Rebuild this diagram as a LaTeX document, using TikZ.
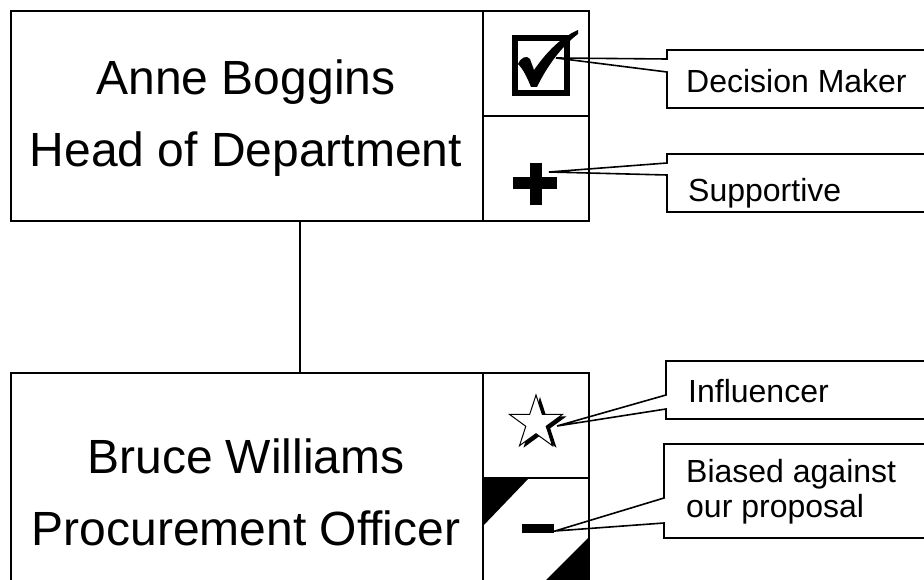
\documentclass[tikz,border=0pt]{standalone}
\usepackage{fontspec}
\setmainfont{Liberation Sans}

\tikzset{
	frame/.style={draw, line width=1.6pt, inner sep=0pt, anchor=north west},
	nametext/.style={inner sep=0pt, anchor=base, font=\fontsize{48}{56}\selectfont},
	tagtext/.style={inner sep=0pt, anchor=base west, font=\fontsize{32}{36}\selectfont},
	callout/.style={draw, line width=1.6pt, line join=miter},
}

\begin{document}
\begin{tikzpicture}[x=1pt, y=-1pt]
	\clip (0,0) rectangle (924,580);
	\node (anne) [frame, minimum width=578pt, minimum height=210pt] at (10,10) {};
	\node (bruce) [frame, minimum width=578pt, minimum height=216pt] at (10,372) {};
	\node (decider) [frame, minimum width=106pt, minimum height=105pt] at (482,10) {};
	\node (support) [frame, minimum width=106pt, minimum height=105pt] at (482,115) {};
	\node (influence) [frame, minimum width=106pt, minimum height=105pt] at (482,372) {};
	\node (bias) [frame, minimum width=106pt, minimum height=111pt] at (482,477) {};
	\draw [line width=1.6pt] (anne) -- (bruce);

	\node (anneName) [nametext] at (246,95) {Anne Boggins};
	\node (anneRole) [nametext] at (246,167) {Head of Department};
	\node (bruceName) [nametext] at (246,473) {Bruce Williams};
	\node (bruceRole) [nametext] at (246,545) {Procurement Officer};

	\draw [line width=6.5pt] (515,38) rectangle (567,93);
	\fill (518,64) .. controls (521,57) and (527,55) .. (530,59) -- (534,70)
		.. controls (548,50) and (562,37) .. (578,30) -- (578,34)
		.. controls (562,46) and (547,66) .. (537,87) -- (531,87)
		.. controls (527,77) and (523,69) .. (518,64) -- cycle;
	\fill (513,177.5) rectangle (557,189);
	\fill (530,163) rectangle (541.5,205);
	\fill [shift={(4,2)}] (536,395) -- (542.3,414.3) -- (562.6,414.3) -- (546.2,426.3) -- (552.5,445.7)
		-- (536,433.7) -- (519.5,445.7) -- (525.8,426.3) -- (509.4,414.3) -- (529.7,414.3) -- cycle;
	\draw [fill=white, line width=1pt, line join=miter] (536,395) -- (542.3,414.3) -- (562.6,414.3) -- (546.2,426.3) -- (552.5,445.7)
		-- (536,433.7) -- (519.5,445.7) -- (525.8,426.3) -- (509.4,414.3) -- (529.7,414.3) -- cycle;
	\fill (482,477) -- (530,477) -- (482,527) -- cycle;
	\fill (588,538) -- (588,588) -- (538,588) -- cycle;
	\fill (522,524) rectangle (554,533);

	\coordinate (deciderTip) at (556,58);
	\coordinate (supportTip) at (549,172);
	\coordinate (influenceTip) at (557,426);
	\coordinate (biasTip) at (555,531);

	\draw [callout] (940,50) -- (667,50) -- (667,59) -- (deciderTip) -- (667,72) -- (667,108) -- (940,108);
	\draw [callout] (940,154) -- (667,154) -- (667,163) -- (supportTip) -- (667,175) -- (667,212) -- (940,212);
	\draw [callout] (940,361) -- (666,361) -- (666,395) -- (influenceTip) -- (666,409) -- (666,419) -- (940,419);
	\draw [callout] (940,444) -- (664,444) -- (664,498) -- (biasTip) -- (664,523) -- (664,538) -- (940,538);

	\node (deciderTag) [tagtext] at (686,93) {Decision Maker};
	\node (supportTag) [tagtext] at (688,202) {Supportive};
	\node (influenceTag) [tagtext] at (688,402) {Influencer};
	\node (biasTag) [tagtext] at (686,482) {Biased against};
	\node (biasTag2) [tagtext] at (686,517) {our proposal};
\end{tikzpicture}
\end{document}
